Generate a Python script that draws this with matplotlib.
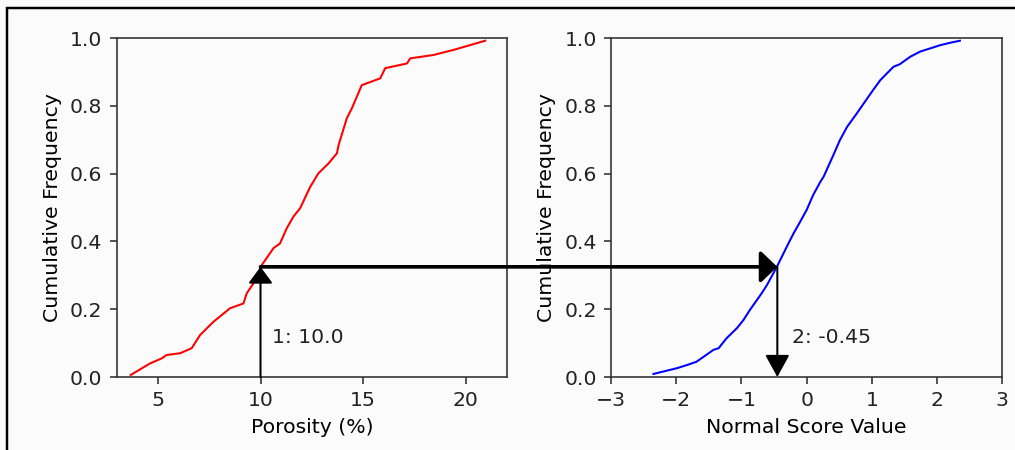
import numpy as np
import matplotlib.pyplot as plt
from matplotlib.patches import ConnectionPatch, Rectangle

# cumulative distribution of porosity (%)
por = [3.68, 4.62, 5.19, 5.43, 6.08, 6.65, 7.06, 7.71, 8.52, 9.17, 9.33, 9.82,
       10.06, 10.63, 10.95, 11.28, 11.60, 11.93, 12.42, 12.82, 13.31, 13.72,
       13.80, 14.20, 14.45, 14.93, 15.83, 16.07, 17.13, 17.29, 18.42, 19.40, 20.94]
por_cdf = [0.006, 0.040, 0.055, 0.065, 0.070, 0.085, 0.124, 0.163, 0.203, 0.217,
           0.247, 0.291, 0.330, 0.380, 0.394, 0.439, 0.473, 0.498, 0.561, 0.601,
           0.630, 0.660, 0.684, 0.763, 0.793, 0.861, 0.881, 0.911, 0.925, 0.940,
           0.950, 0.965, 0.992]

# cumulative distribution of the normal score transform
nscore = [-2.35, -1.99, -1.84, -1.69, -1.43, -1.35, -1.23, -1.07, -0.97, -0.87,
          -0.69, -0.61, -0.46, -0.28, -0.20, -0.10, 0.00, 0.10, 0.21, 0.26, 0.41,
          0.51, 0.62, 0.77, 1.02, 1.13, 1.33, 1.43, 1.59, 1.74, 2.05, 2.20, 2.35]
nscore_cdf = [0.009, 0.026, 0.035, 0.045, 0.080, 0.085, 0.114, 0.144, 0.168, 0.198,
              0.247, 0.271, 0.324, 0.394, 0.424, 0.458, 0.493, 0.537, 0.576, 0.591,
              0.655, 0.699, 0.738, 0.778, 0.847, 0.876, 0.915, 0.923, 0.945, 0.960,
              0.979, 0.986, 0.992]

# transform example
por_value = 10.0
ns_value = -0.45
cdf_value = 0.325

bg = "#fbfbfb"
dpi = 147
fig = plt.figure(figsize=(1015 / dpi, 450 / dpi), dpi=dpi, facecolor=bg)

ax1 = fig.add_axes([0.115, 0.1622, 0.3845, 0.7533], facecolor=bg)
ax2 = fig.add_axes([0.602, 0.1622, 0.3855, 0.7533], facecolor=bg)

ax1.plot(por, por_cdf, color="red", lw=1.0)
ax1.set_xlim(3, 22)
ax1.set_ylim(0, 1)
ax1.set_xticks([5, 10, 15, 20])
ax1.set_xlabel("Porosity (%)")
ax1.set_ylabel("Cumulative Frequency")

ax2.plot(nscore, nscore_cdf, color="blue", lw=1.0)
ax2.set_xlim(-3, 3)
ax2.set_ylim(0, 1)
ax2.set_xticks([-3, -2, -1, 0, 1, 2, 3])
ax2.set_xlabel("Normal Score Value")
ax2.set_ylabel("Cumulative Frequency")

for ax in (ax1, ax2):
    ax.set_yticks([0, 0.2, 0.4, 0.6, 0.8, 1.0])
    for s in ax.spines.values():
        s.set_color("#333333")
    ax.tick_params(colors="#333333", labelcolor="#222222")

# up arrow from the porosity value to its cdf
ax1.annotate("", xy=(por_value, cdf_value), xytext=(por_value, 0),
             arrowprops=dict(arrowstyle="-|>,head_length=0.69,head_width=0.51",
                             color="black", lw=1.0, shrinkA=0, shrinkB=0,
                             mutation_scale=10))
ax1.text(por_value + 0.55, 0.1, f"1: {por_value:.1f}", color="#222222")

# across to the normal score cdf
con = ConnectionPatch(xyA=(por_value, cdf_value), coordsA=ax1.transData,
                      xyB=(ns_value, cdf_value), coordsB=ax2.transData,
                      arrowstyle="-|>,head_length=0.69,head_width=0.66",
                      mutation_scale=10, color="black", lw=1.8,
                      shrinkA=0, shrinkB=0, zorder=5)
fig.add_artist(con)

# down to the normal score value
ax2.annotate("", xy=(ns_value, 0), xytext=(ns_value, cdf_value),
             arrowprops=dict(arrowstyle="-|>,head_length=0.93,head_width=0.51",
                             color="black", lw=1.0, shrinkA=0, shrinkB=0,
                             mutation_scale=10), annotation_clip=False)
ax2.text(ns_value + 0.22, 0.1, f"2: {ns_value}", color="#222222")

# outer frame
fig.add_artist(Rectangle((7 / 1015, -0.05), 1.1, 1 - 8 / 450 + 0.05,
                         transform=fig.transFigure, fill=False,
                         edgecolor="black", lw=1.2, clip_on=False))

fig.savefig("out.png", dpi=dpi, facecolor=bg)
